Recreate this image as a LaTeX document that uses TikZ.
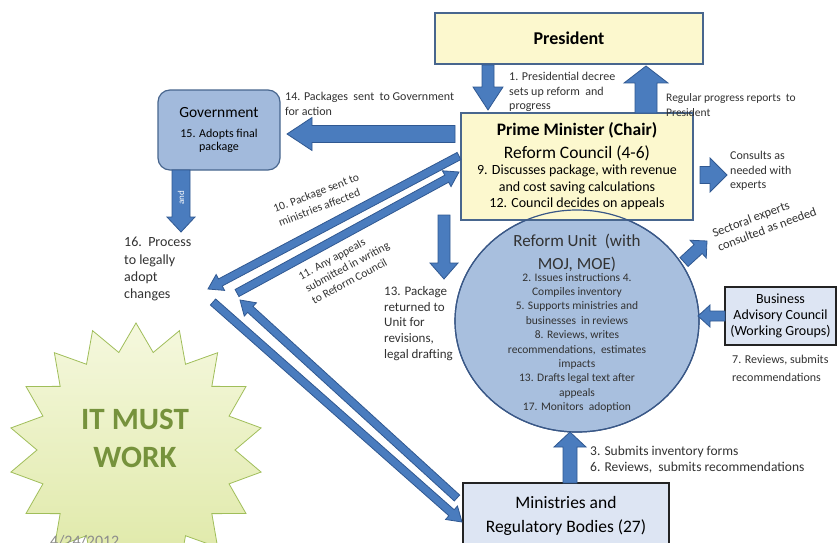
\documentclass[tikz,border=0pt]{standalone}
\usepackage{fontspec}
\setmainfont{Carlito}
\usetikzlibrary{calc,shapes.geometric}
\definecolor{paleyellow}{RGB}{252,248,206}
\definecolor{boxedge}{RGB}{72,102,142}
\definecolor{arrowfill}{RGB}{74,124,190}
\definecolor{arrowedge}{RGB}{48,88,145}
\definecolor{unitfill}{RGB}{168,191,222}
\definecolor{unitedge}{RGB}{58,88,135}
\definecolor{govfill}{RGB}{162,186,220}
\definecolor{paleblue}{RGB}{221,229,243}
\definecolor{darkedge}{RGB}{35,35,35}
\definecolor{ink}{RGB}{50,50,50}
\definecolor{burstlight}{RGB}{245,248,222}
\definecolor{burstdark}{RGB}{222,232,165}
\definecolor{burstedge}{RGB}{160,190,90}
\definecolor{bursttext}{RGB}{118,146,60}
\definecolor{dategray}{RGB}{140,140,140}
\newcommand{\setfs}[2]{\fontsize{#1}{#2}\selectfont}
% block arrow: [options]{from}{to}{half shaft}{half head}{head length}
\newcommand{\blockarrow}[6][]{%
  \draw[blockarrow,#1] ($(#2)!#4!90:(#3)$)
    -- ($(#3)!#6!(#2)!#4!90:(#3)$)
    -- ($(#3)!#6!(#2)!#5!90:(#3)$)
    -- (#3)
    -- ($(#3)!#6!(#2)!#5!-90:(#3)$)
    -- ($(#3)!#6!(#2)!#4!-90:(#3)$)
    -- ($(#2)!#4!-90:(#3)$) -- cycle;}

\begin{document}
\begin{tikzpicture}[x=1pt,y=-1pt,
                    every node/.style={inner sep=0pt},
                    box/.style={draw=boxedge,line width=1.3pt,fill=paleyellow,align=center},
                    greybox/.style={draw=darkedge,line width=1.2pt,fill=paleblue,align=center},
                    lbl/.style={text=ink,align=left,anchor=north west},
                    blockarrow/.style={draw=arrowedge,fill=arrowfill,line width=0.8pt}]
  \useasboundingbox[fill=white] (0,0) rectangle (838,543);

  % starburst
  \shade[top color=burstlight,bottom color=burstdark,draw=burstedge,line width=0.8pt]
    plot[samples at={0,...,35}]
      ({136+ifthenelse(isodd(\x),99,127)*cos(90+10*\x)},
       {450-ifthenelse(isodd(\x),99,127)*sin(90+10*\x)}) -- cycle;
  \node[font=\setfs{31}{38}\bfseries,text=bursttext,align=center] (must) at (135,438)
    {IT MUST\\WORK};
  \node[font=\setfs{16}{18},text=dategray,anchor=base west] (date) at (50,546) {4/24/2012};

  % boxes
  \node[box,minimum width=268pt,minimum height=51pt,font=\setfs{18}{22}\bfseries] (pres)
    at (569,38.5) {President};
  \node[ellipse,draw=unitedge,fill=unitfill,line width=1.2pt,minimum width=244pt,
        minimum height=222pt] (unit) at (577,321) {};
  \node[box,minimum width=232pt,minimum height=107pt,font=\setfs{14}{16.5}] (pm)
    at (577,166.5)
    {{\setfs{17.5}{21}\bfseries Prime Minister (Chair)}\\[6.5pt]
     {\setfs{17.5}{21}Reform Council (4-6)}\\[-0.5pt]
     9. Discusses package, with revenue\\and cost saving calculations\\
     12. Council decides on appeals};
  \draw[draw=unitedge,line width=1.2pt] (unit.center) ellipse [x radius=122,y radius=111];
  \node[align=center,text=ink,font=\setfs{11.5}{14.4}] (unittext) at (577,323.5)
    {{\setfs{17}{21}Reform Unit\ \ (with}\\[6.6pt]{\setfs{17}{21}MOJ, MOE)}\\[-2.4pt]
     2. Issues instructions 4.\\Compiles inventory\\5. Supports ministries and\\
     businesses\ \ in reviews\\8. Reviews, writes\\recommendations,\ \ estimates\\impacts\\
     13. Drafts legal text after\\appeals\\17. Monitors\ \ adoption};
  \node[draw=boxedge,fill=govfill,line width=1.2pt,rounded corners=12pt,minimum width=122pt,
        minimum height=80pt,align=center,font=\setfs{12}{13.5}] (gov) at (219,130)
    {{\setfs{15.5}{18}Government}\\[6.7pt]15. Adopts final\\package};
  \node[greybox,minimum width=206pt,minimum height=65pt,font=\setfs{17.5}{24}] (mins)
    at (566,515.5) {Ministries and\\Regulatory Bodies (27)};
  \node[greybox,minimum width=111pt,minimum height=58pt,font=\setfs{14}{16}] (bac)
    at (780.5,316) {Business\\Advisory Council\\(Working Groups)};

  % arrow ends
  \coordinate (decA) at (488,65);   \coordinate (decB) at (488,110);
  \coordinate (repA) at (646,113);  \coordinate (repB) at (646,66);
  \coordinate (govA) at (455,134);  \coordinate (govB) at (287,134);
  \coordinate (legA) at (181,170);  \coordinate (legB) at (181,232);
  \coordinate (outA) at (459,156);  \coordinate (outB) at (208,289);
  \coordinate (minA) at (213,302);  \coordinate (minB) at (462,522);
  \coordinate (appA) at (457,498);  \coordinate (appB) at (240,300);
  \coordinate (pmA)  at (237,293);  \coordinate (pmB)  at (459,172);
  \coordinate (retA) at (444,215);  \coordinate (retB) at (444,279);
  \coordinate (conA) at (700,175);  \coordinate (conB) at (727,175);
  \coordinate (secA) at (684,262);  \coordinate (secB) at (707,241);
  \coordinate (bacA) at (725,316);  \coordinate (bacB) at (698,316);
  \coordinate (invA) at (570,483);  \coordinate (invB) at (570,432);

  \blockarrow{decA}{decB}{6pt}{15pt}{23pt}
  \blockarrow{repA}{repB}{11pt}{22pt}{17pt}
  \blockarrow{govA}{govB}{8.5pt}{16.5pt}{25pt}
  \blockarrow{legA}{legB}{9pt}{14pt}{15pt}
  \blockarrow{outA}{outB}{4pt}{9pt}{14pt}
  \blockarrow{minA}{minB}{4pt}{9pt}{14pt}
  \blockarrow{appA}{appB}{4pt}{9pt}{14pt}
  \blockarrow{pmA}{pmB}{4pt}{9pt}{14pt}
  \blockarrow{retA}{retB}{6pt}{14pt}{16pt}
  \blockarrow{conA}{conB}{8.5pt}{17pt}{17pt}
  \blockarrow{secA}{secB}{6pt}{12pt}{12pt}
  \blockarrow{bacA}{bacB}{5pt}{11pt}{12pt}
  \blockarrow{invA}{invB}{7pt}{16pt}{15pt}
  \node[text=white,rotate=90,font=\setfs{9}{10}] (andlbl) at (181,198) {and};

  % labels
  \node[lbl,font=\setfs{12}{14.5}] (decree) at (509,72)
    {1. Presidential decree\\sets up reform\ \ and\\progress};
  \node[lbl,font=\setfs{11.5}{15}] (reports) at (666,93)
    {Regular progress reports\ \ to\\President};
  \node[lbl,font=\setfs{12}{15}] (sent14) at (285,92)
    {14. Packages\ \ sent\ \ to Government\\for action};
  \node[lbl,font=\setfs{12}{14.5}] (consult) at (730,151)
    {Consults as\\needed with\\experts};
  \node[lbl,font=\setfs{12.5}{15},rotate=20.5] (sector) at (711,229)
    {Sectoral experts\\consulted as needed};
  \node[lbl,font=\setfs{11.5}{15},rotate=21] (sent10) at (272,205)
    {10. Package sent to\\ministries affected};
  \node[lbl,font=\setfs{11.5}{14},rotate=28.5] (appeal11) at (297,273)
    {11. Any appeals\\submitted in writing\\to Reform Council};
  \node[lbl,font=\setfs{13}{15.8}] (ret13) at (384,286)
    {13. Package\\returned to\\Unit for\\revisions,\\legal drafting};
  \node[lbl,font=\setfs{14}{17.4}] (adopt16) at (124,237)
    {16.\ \ Process\\to legally\\adopt\\changes};
  \node[lbl,font=\setfs{12}{18}] (review7) at (732,355)
    {7. Reviews, submits\\recommendations};
  \node[lbl,font=\setfs{13.5}{16}] (submit3) at (590,446)
    {3. Submits inventory forms\\6. Reviews,\ \ submits recommendations};
\end{tikzpicture}
\end{document}
